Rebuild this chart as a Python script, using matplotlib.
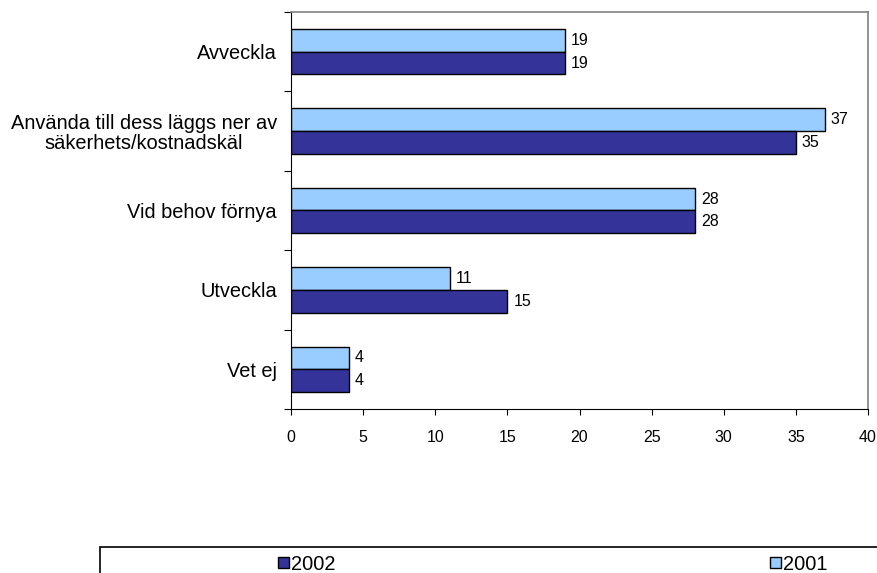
import numpy as np
import matplotlib
matplotlib.use("Agg")
import matplotlib.pyplot as plt
from matplotlib.patches import Rectangle, Patch

plt.rcParams['font.family'] = ['Liberation Sans', 'DejaVu Sans']

# data, top to bottom
categories = ['Avveckla', 'Använda till dess läggs ner av\nsäkerhets/kostnadskäl',
              'Vid behov förnya', 'Utveckla', 'Vet ej']
v2001 = [19, 37, 28, 11, 4]
v2002 = [19, 35, 28, 15, 4]
xticks = [0, 5, 10, 15, 20, 25, 30, 35, 40]

c2001 = '#99CCFF'
c2002 = '#333399'

fig = plt.figure(figsize=(8.77, 5.73), dpi=100)
ax = fig.add_axes([291/877, 1-409/573, (868-291)/877, (409-12)/573])

y = np.arange(len(categories))
h = 0.286
ax.barh(y - h/2, v2001, height=h, color=c2001, edgecolor='black', linewidth=1)
ax.barh(y + h/2, v2002, height=h, color=c2002, edgecolor='black', linewidth=1)

for i in range(len(categories)):
    ax.text(v2001[i] + 0.42, y[i] - h/2, str(v2001[i]), va='center', ha='left', fontsize=11.5)
    ax.text(v2002[i] + 0.42, y[i] + h/2, str(v2002[i]), va='center', ha='left', fontsize=11.5)

ax.set_ylim(len(categories) - 0.5, -0.5)
ax.set_xlim(0, 40)
ax.set_xticks(xticks)
ax.tick_params(axis='x', labelsize=11.5, length=4, pad=11, direction='out')

ax.set_yticks(np.arange(-0.5, len(categories)), minor=False)
ax.set_yticklabels([])
ax.set_yticks(y, minor=True)
ax.set_yticklabels(categories, minor=True, fontsize=14.4, ha='right',
                   multialignment='center', linespacing=1.05)
ax.tick_params(axis='y', which='major', length=5, direction='out')
ax.tick_params(axis='y', which='minor', length=0, pad=10)

for s in ['top', 'right']:
    ax.spines[s].set_color('#808080')
    ax.spines[s].set_linewidth(1.2)

# legend box, cut off at the edge of the figure
fig.patches.append(Rectangle((100/877, -0.2), 1.0, 0.2 + 1 - 547/573, transform=fig.transFigure,
                             facecolor='none', edgecolor='black', linewidth=1.2))
handles = [Patch(facecolor=c2002, edgecolor='black'), Patch(facecolor=c2001, edgecolor='black')]
fig.legend(handles, ['2002', '2001'], ncol=2, frameon=False, loc='center left',
           bbox_to_anchor=(278/877, 1-564/573), fontsize=14.4, handlelength=0.55,
           handleheight=0.5, handletextpad=0.1, columnspacing=21.7, borderpad=0, borderaxespad=0)

fig.savefig('out.png', dpi=100)
